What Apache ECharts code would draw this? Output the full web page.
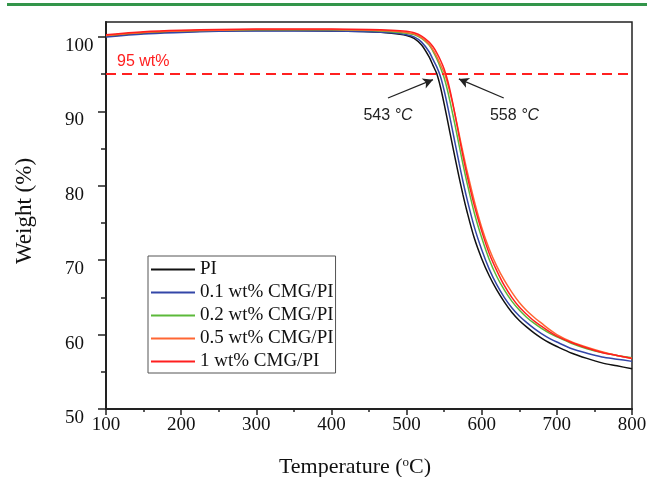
<!DOCTYPE html>
<html><head><meta charset="utf-8">
<script src="https://cdn.jsdelivr.net/npm/echarts@6/dist/echarts.min.js"></script>
<style>html,body{margin:0;padding:0;background:#fff}#c{width:647px;height:477px}</style>
</head><body><div id="c"></div>
<script>
// Temperatures (°C)
const temps = [100,150,200,250,300,350,400,450,480,500,510,520,530,535,540,545,550,555,560,565,570,575,580,590,600,610,620,630,640,650,660,670,680,690,700,720,740,760,780,800];
// Weight (%) per sample
const wPI = [100.1,100.5,100.7,100.8,100.85,100.85,100.8,100.7,100.5,100.2,99.8,98.9,97.3,96.2,95.1,93.3,91.0,88.5,86.0,83.5,81.1,78.8,76.7,73.0,70.2,67.9,66.0,64.4,63.0,61.9,61.0,60.2,59.5,58.9,58.4,57.5,56.8,56.2,55.8,55.4];
const w01 = [100.0,100.4,100.6,100.75,100.8,100.8,100.8,100.7,100.55,100.3,100.0,99.3,98.0,97.0,96.0,94.7,92.8,90.5,88.0,85.5,83.0,80.6,78.4,74.5,71.4,68.8,66.7,65.0,63.6,62.5,61.6,60.8,60.1,59.5,59.0,58.1,57.5,57.0,56.7,56.4];
const w02 = [100.2,100.6,100.8,100.9,100.95,100.95,100.95,100.85,100.7,100.5,100.3,99.8,98.9,98.1,97.1,95.9,94.5,92.6,90.3,87.9,85.4,82.9,80.6,76.4,73.0,70.1,67.8,66.0,64.5,63.3,62.3,61.5,60.8,60.2,59.7,58.8,58.1,57.6,57.2,56.9];
const w05 = [100.2,100.6,100.8,100.9,101.0,101.0,101.0,100.9,100.8,100.6,100.4,99.9,99.0,98.3,97.4,96.3,95.2,93.6,91.6,89.3,86.9,84.5,82.2,78.0,74.4,71.5,69.2,67.3,65.7,64.3,63.2,62.3,61.5,60.7,60.0,59.0,58.3,57.7,57.2,56.8];
const w1  = [100.3,100.7,100.9,101.0,101.05,101.05,101.05,101.0,100.9,100.75,100.55,100.1,99.3,98.7,97.9,96.9,95.7,94.0,91.8,89.3,86.6,84.0,81.6,77.4,73.9,70.9,68.6,66.6,65.0,63.7,62.7,61.8,61.1,60.4,59.8,58.9,58.2,57.6,57.2,56.8];
const seriesNames = ['PI','0.1 wt% CMG/PI','0.2 wt% CMG/PI','0.5 wt% CMG/PI','1 wt% CMG/PI'];
const seriesValues = [wPI, w01, w02, w05, w1];
const colors = ['#111111','#3346A8','#5CB93A','#FF6633','#FF1F1F'];
const yMajorTicks = [50,60,70,80,90,100];
const yMinorTicks = [55,65,75,85,95];
const threshold = 95;
const thresholdLabel = '95 wt%';
const onsetTemps = ['543', '558'];

const chart = echarts.init(document.getElementById('c'), null, {renderer: 'canvas'});
const serif = 'Liberation Serif';
const sans = 'Liberation Sans';

const series = seriesNames.map((name, k) => ({
  name, type: 'line', smooth: 0.3, showSymbol: false, symbol: 'none',
  data: temps.map((t, i) => [t, seriesValues[k][i]]),
  lineStyle: {color: colors[k], width: 1.5},
  itemStyle: {color: colors[k]},
  z: 2 + k, animation: false
}));
series[0].markLine = {
  silent: true, symbol: 'none', animation: false,
  lineStyle: {color: '#FF2020', width: 2, type: [10, 6]},
  label: {show: true, position: 'insideStartTop', formatter: thresholdLabel, color: '#FF2020',
          fontFamily: sans, fontSize: 16, distance: [11, 5]},
  data: [{yAxis: threshold}]
};
series[4].markLine = {
  silent: true, symbol: ['none', 'arrow'], symbolSize: [8, 10], animation: false,
  lineStyle: {color: '#222', width: 1.3, type: 'solid'},
  label: {show: false},
  data: [
    [{coord: [475.3, 91.79]}, {coord: [535.1, 94.25]}],
    [{coord: [629.3, 91.79]}, {coord: [569.6, 94.35]}]
  ]
};
series[4].markPoint = {
  silent: true, symbol: 'circle', symbolSize: 0, animation: false,
  label: {show: true, position: 'inside', color: '#222', fontFamily: sans, fontSize: 16,
          formatter: p => p.name + ' {i|°C}',
          rich: {i: {fontStyle: 'italic', fontFamily: sans, fontSize: 16, color: '#222'}}},
  data: [
    {name: onsetTemps[0], coord: [475.3, 89.45]},
    {name: onsetTemps[1], coord: [643.6, 89.4]}
  ]
};

const option = {
  backgroundColor: '#fff',
  animation: false,
  grid: {left: 106, right: 15, top: 22, bottom: 68, show: true, borderColor: '#222', borderWidth: 1.5,
         containLabel: false, outerBoundsMode: 'none'},
  graphic: [{type: 'rect', shape: {x: 7, y: 3, width: 640, height: 3}, style: {fill: '#33954A'}}],
  legend: {
    left: 148, top: 256, orient: 'vertical', itemWidth: 44, itemHeight: 2, itemGap: 4,
    icon: 'rect', padding: [4, 2, 2, 3], itemTextGap: 2,
    borderColor: '#555', borderWidth: 1, backgroundColor: '#fff',
    textStyle: {fontFamily: serif, fontSize: 19, color: '#111'},
    data: seriesNames
  },
  xAxis: {
    type: 'value', min: 100, max: 800, interval: 100,
    name: 'Temperature ({sup|o}C)', nameLocation: 'middle', nameGap: 47,
    nameTextStyle: {fontFamily: serif, fontSize: 22, color: '#111', padding: [0, 28, 0, 0],
      rich: {sup: {fontFamily: serif, fontSize: 13, color: '#111', verticalAlign: 'top', padding: [0, 0, 10, 0]}}},
    axisLine: {onZero: false, lineStyle: {color: '#222', width: 2}},
    axisTick: {show: true, inside: false, length: 6, lineStyle: {color: '#222', width: 1.5}},
    minorTick: {show: true, splitNumber: 2, length: 3, lineStyle: {color: '#222', width: 1.5}},
    axisLabel: {fontFamily: serif, fontSize: 19, color: '#111', margin: 7},
    splitLine: {show: false}
  },
  yAxis: [{
    type: 'value', min: 50, max: 102, interval: 10,
    name: 'Weight (%)', nameLocation: 'middle', nameGap: 70, nameRotate: 90,
    nameTextStyle: {fontFamily: serif, fontSize: 23, color: '#111', padding: [0, 0, 0, 9]},
    axisLine: {onZero: false, lineStyle: {color: '#222', width: 2}},
    axisTick: {show: true, inside: false, length: 8, customValues: yMajorTicks, lineStyle: {color: '#222', width: 1.5}},
    axisLabel: {fontFamily: serif, fontSize: 19, color: '#111', margin: 41, align: 'left', customValues: yMajorTicks,
                verticalAlign: 'top', lineHeight: 18},
    splitLine: {show: false}
  }, {
    type: 'value', min: 50, max: 102, position: 'left', interval: 5,
    axisLine: {show: false},
    axisTick: {show: true, inside: false, length: 5, customValues: yMinorTicks, lineStyle: {color: '#222', width: 1.5}},
    axisLabel: {show: false},
    splitLine: {show: false}
  }],
  series
};
chart.setOption(option);
</script>
</body></html>
